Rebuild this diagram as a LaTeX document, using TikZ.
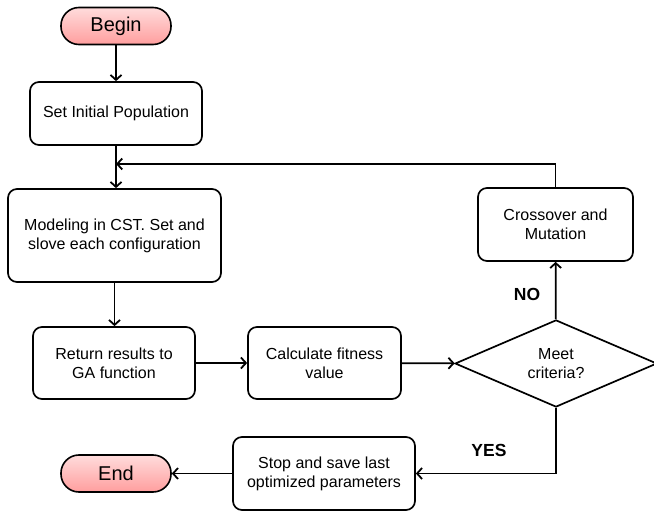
\documentclass[tikz,border=0pt]{standalone}
\usepackage{fontspec}
\setmainfont{Liberation Sans}
\usetikzlibrary{arrows.meta,shapes.geometric}
\definecolor{pinktop}{HTML}{FFDCDC}
\definecolor{pinkbot}{HTML}{FF9E9E}
\begin{document}
\begin{tikzpicture}[x=1pt,y=-1pt,
  box/.style={draw,line width=1.7pt,rounded corners=9pt,align=center,
    font=\fontsize{16}{19}\selectfont,inner sep=0pt},
  pill/.style={draw,line width=1.6pt,rounded corners=18pt,inner sep=0pt,
    top color=pinktop,bottom color=pinkbot,
    font=\fontsize{20}{24}\selectfont,minimum width=110pt,minimum height=37pt},
  decision/.style={draw,line width=1.7pt,diamond,inner sep=0pt,align=center,
    font=\fontsize{16}{19}\selectfont,minimum width=202pt,minimum height=81pt},
  arr/.style={line width=1.8pt,-{Straight Barb[length=5pt,width=11pt,line width=1.8pt]}},
  lbl/.style={font=\bfseries\fontsize{17.5}{20}\selectfont}]
\useasboundingbox (0,0) rectangle (654,513);
\node[pill] (begin) at (116,26) {Begin};
\node[box,minimum width=172pt,minimum height=63pt] (init) at (116,113.5) {Set Initial Population};
\node[box,minimum width=213pt,minimum height=93pt] (model) at (114.5,235.5) {Modeling in CST. Set and\\slove each configuration};
\node[box,minimum width=162pt,minimum height=72pt] (ret) at (114,363) {Return results to\\GA function};
\node[box,minimum width=153pt,minimum height=72pt] (calc) at (324.5,363) {Calculate fitness\\value};
\node[decision] (dia) at (556,363.5) {Meet\\criteria?};
\node[box,minimum width=155pt,minimum height=73pt] (cross) at (555.5,224.5) {Crossover and\\Mutation};
\node[box,minimum width=182pt,minimum height=73pt] (stop) at (324,473.5) {Stop and save last\\optimized parameters};
\node[pill] (end) at (116,473.5) {End};
\coordinate (fb) at (116,164);
\node[lbl] (no) at (527,294) {NO};
\node[lbl] (yes) at (489,450) {YES};
\draw[arr] (begin) -- (init);
\draw[arr] (init.south) -- (init.south |- model.north);
\draw[arr] (cross.north) |- (fb);
\draw[arr] (model.south) -- (model.south |- ret.north);
\draw[arr] (ret) -- (calc);
\draw[arr] (calc) -- (dia);
\draw[arr] (dia) -- (cross);
\draw[arr] (dia.south) |- (stop);
\draw[arr] (stop) -- (end);
\end{tikzpicture}
\end{document}
